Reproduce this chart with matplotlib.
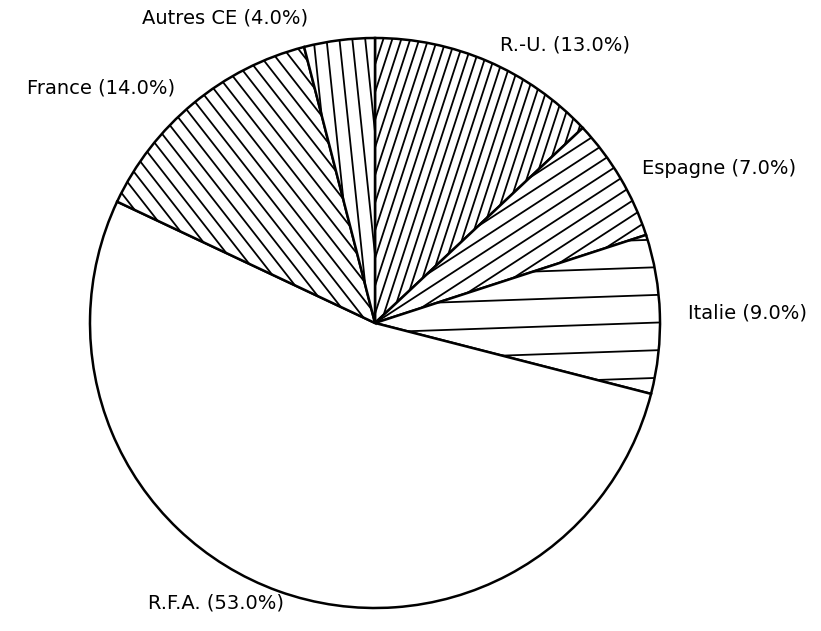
import numpy as np
from matplotlib import pyplot as plt
from matplotlib.collections import LineCollection

# shares of each country (clockwise from the top)
countries = ['R.-U.', 'Espagne', 'Italie', 'R.F.A.', 'France', 'Autres CE']
shares = [13.0, 7.0, 9.0, 53.0, 14.0, 4.0]

# hatch style per wedge: (angle of lines in degrees, spacing in radius units), None = plain
hatch_styles = [(72, 0.030), (33, 0.044), (2, 0.097), None, (-52, 0.040), (-84, 0.045)]

# label anchor in pixels of the original (x, y, horizontal alignment)
label_px = [(500, 45, 'left'), (642, 168, 'left'), (688, 313, 'left'),
            (148, 603, 'left'), (175, 88, 'right'), (308, 18, 'right')]

cx, cy, R = 375, 323, 285

fig = plt.figure(figsize=(8.21, 6.31), dpi=100)
ax = fig.add_axes([0, 0, 1, 1])

labels = [f'{c} ({s:.1f}%)' for c, s in zip(countries, shares)]
wedges, texts = ax.pie(shares, labels=labels, startangle=90, counterclock=False,
                       radius=1.0, labeldistance=1.1,
                       wedgeprops=dict(facecolor='white', edgecolor='black', linewidth=1.8),
                       textprops=dict(fontsize=14, color='black'))

def hatch_wedge(w, angle, spacing):
    # parallel lines across the unit disc, clipped to the wedge
    a = np.deg2rad(angle)
    d = np.array([np.cos(a), np.sin(a)])
    n = np.array([-np.sin(a), np.cos(a)])
    segs = []
    for off in np.arange(-1.1, 1.1, spacing):
        p = n * off
        segs.append([p - 1.2 * d, p + 1.2 * d])
    lc = LineCollection(segs, colors='black', linewidths=1.3)
    ax.add_collection(lc)
    lc.set_clip_path(w)

for w, hs in zip(wedges, hatch_styles):
    if hs is not None:
        hatch_wedge(w, *hs)

for t, (px, py, ha) in zip(texts, label_px):
    t.set_position(((px - cx) / R, (cy - py) / R))
    t.set_horizontalalignment(ha)
    t.set_verticalalignment('center')

ax.set_xlim(-cx / R, (821 - cx) / R)
ax.set_ylim(-(631 - cy) / R, cy / R)
ax.set_aspect('equal')
ax.axis('off')

fig.savefig('out.png', dpi=100)
